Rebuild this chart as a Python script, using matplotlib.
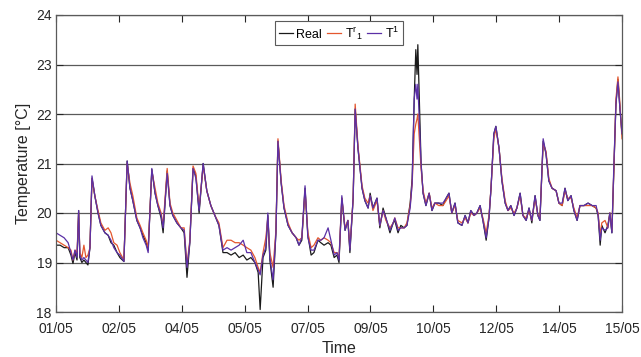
import matplotlib
matplotlib.use("Agg")
import matplotlib.pyplot as plt
import numpy as np

# time in days since 01/05 00:00
days = [0.00, 0.10, 0.20, 0.30, 0.37, 0.42, 0.47, 0.52, 0.56, 0.59, 0.64, 0.69, 0.74, 0.79, 0.84,
        0.89, 0.96, 1.04, 1.11, 1.21, 1.29, 1.36, 1.43, 1.51, 1.58, 1.68, 1.76, 1.83, 1.90, 2.00,
        2.08, 2.15, 2.23, 2.28, 2.37, 2.45, 2.52, 2.60, 2.65, 2.75, 2.82, 2.89, 2.99, 3.09, 3.17,
        3.24, 3.31, 3.39, 3.46, 3.54, 3.64, 3.73, 3.83, 3.93, 4.03, 4.13, 4.23, 4.33, 4.43, 4.53,
        4.63, 4.72, 4.82, 4.92, 5.00, 5.05, 5.12, 5.19, 5.24, 5.29, 5.37, 5.44, 5.49, 5.57, 5.64,
        5.74, 5.84, 5.94, 6.01, 6.08, 6.16, 6.23, 6.31, 6.38, 6.48, 6.55, 6.63, 6.73, 6.80, 6.88,
        6.95, 7.00, 7.07, 7.15, 7.22, 7.27, 7.35, 7.40, 7.47, 7.57, 7.64, 7.72, 7.77, 7.84, 7.94,
        8.01, 8.09, 8.16, 8.26, 8.34, 8.38, 8.46, 8.53, 8.61, 8.68, 8.76, 8.81, 8.86, 8.90, 8.93,
        8.95, 8.98, 9.03, 9.08, 9.15, 9.23, 9.30, 9.37, 9.47, 9.57, 9.65, 9.72, 9.79, 9.87, 9.94,
        10.04, 10.12, 10.19, 10.26, 10.34, 10.41, 10.49, 10.56, 10.64, 10.71, 10.76, 10.83, 10.88,
        10.96, 11.03, 11.11, 11.18, 11.25, 11.33, 11.40, 11.48, 11.55, 11.63, 11.70, 11.77, 11.85,
        11.92, 11.97, 12.05, 12.12, 12.19, 12.27, 12.37, 12.44, 12.52, 12.59, 12.66, 12.74, 12.81,
        12.89, 12.96, 13.06, 13.16, 13.26, 13.36, 13.41, 13.46, 13.50, 13.58, 13.65, 13.70, 13.75,
        13.80, 13.85, 13.90, 13.95, 14.00]

real = [19.35, 19.35, 19.30, 19.30, 19.15, 18.98, 19.20, 19.05, 20.05, 19.10, 19.00, 19.05, 19.00, 18.95, 19.30,
        20.70, 20.35, 20.00, 19.75, 19.60, 19.55, 19.40, 19.35, 19.20, 19.10, 19.02, 21.05, 20.50, 20.25, 19.85,
        19.70, 19.55, 19.40, 19.25, 20.88, 20.40, 20.15, 19.90, 19.60, 20.85, 20.15, 19.95, 19.80, 19.70, 19.60,
        18.70, 19.40, 20.90, 20.75, 20.00, 21.00, 20.45, 20.15, 19.95, 19.75, 19.20, 19.20, 19.15, 19.20, 19.10,
        19.15, 19.05, 19.10, 19.00, 18.80, 18.05, 19.10, 19.25, 19.95, 19.05, 18.50, 19.60, 21.45, 20.60, 20.10,
        19.75, 19.60, 19.50, 19.35, 19.45, 20.50, 19.55, 19.15, 19.20, 19.45, 19.40, 19.35, 19.40, 19.35, 19.10,
        19.15, 19.00, 20.30, 19.65, 19.85, 19.20, 20.30, 22.10, 21.30, 20.50, 20.25, 20.10, 20.40, 20.10, 20.30,
        19.70, 20.10, 19.90, 19.60, 19.80, 19.85, 19.60, 19.75, 19.70, 19.75, 20.20, 20.70, 22.30, 23.30, 22.80,
        23.40, 22.50, 21.00, 20.40, 20.15, 20.40, 20.05, 20.20, 20.20, 20.15, 20.30, 20.40, 20.00, 20.20, 19.80,
        19.75, 19.95, 19.80, 20.05, 19.95, 20.00, 20.15, 19.85, 19.45, 19.90, 20.50, 21.60, 21.75,
        21.30, 20.65, 20.20, 20.05, 20.15, 19.95, 20.10, 20.40, 19.95, 19.85, 20.10, 19.80, 20.35,
        19.95, 19.85, 21.45, 21.20, 20.65, 20.50, 20.45, 20.20, 20.15, 20.50, 20.25, 20.35, 20.05,
        19.85, 20.15, 20.15, 20.20, 20.15, 20.10, 19.95, 19.35, 19.75, 19.60, 19.75, 20.00, 19.60,
        20.90, 22.20, 22.70, 22.10, 21.60]

t_r1 = [19.45, 19.40, 19.35, 19.30, 19.25, 19.05, 19.25, 19.20, 20.00, 19.20, 19.10, 19.35, 19.10, 19.15, 19.30,
        20.70, 20.35, 20.05, 19.80, 19.65, 19.70, 19.60, 19.40, 19.35, 19.20, 19.05, 21.00, 20.60, 20.35, 19.90,
        19.75, 19.60, 19.45, 19.30, 20.85, 20.50, 20.20, 20.00, 19.75, 20.90, 20.20, 20.00, 19.85, 19.70, 19.70,
        18.95, 19.45, 20.95, 20.80, 20.10, 20.95, 20.45, 20.15, 19.95, 19.80, 19.30, 19.45, 19.45, 19.40, 19.40,
        19.35, 19.30, 19.25, 19.10, 18.90, 18.80, 19.20, 19.50, 19.90, 19.20, 18.90, 19.65, 21.50, 20.65, 20.15,
        19.80, 19.60, 19.50, 19.45, 19.50, 20.45, 19.60, 19.30, 19.35, 19.50, 19.45, 19.50, 19.45, 19.40, 19.20,
        19.20, 19.10, 20.30, 19.70, 19.85, 19.30, 20.30, 22.20, 21.35, 20.55, 20.30, 20.20, 20.35, 20.05, 20.25,
        19.75, 20.05, 19.85, 19.70, 19.80, 19.90, 19.70, 19.70, 19.70, 19.80, 20.15, 20.60, 21.60, 21.80, 21.90,
        22.00, 21.60, 20.90, 20.45, 20.20, 20.40, 20.10, 20.20, 20.15, 20.15, 20.25, 20.35, 20.00, 20.15, 19.85,
        19.80, 19.90, 19.80, 20.00, 19.95, 20.00, 20.10, 19.90, 19.60, 19.95, 20.50, 21.50, 21.70,
        21.30, 20.70, 20.25, 20.05, 20.10, 20.00, 20.10, 20.35, 19.95, 19.90, 20.05, 19.85, 20.30,
        19.95, 19.90, 21.40, 21.25, 20.70, 20.50, 20.45, 20.20, 20.15, 20.45, 20.30, 20.30, 20.10,
        19.90, 20.15, 20.15, 20.15, 20.15, 20.10, 20.00, 19.55, 19.80, 19.85, 19.70, 20.00, 19.65,
        20.90, 22.30, 22.75, 22.20, 21.50]

t_1 = [19.60, 19.55, 19.50, 19.40, 19.20, 19.05, 19.25, 19.10, 20.05, 19.15, 19.05, 19.10, 19.05, 19.00, 19.30,
       20.75, 20.35, 20.00, 19.75, 19.60, 19.55, 19.45, 19.30, 19.20, 19.15, 19.02, 21.05, 20.50, 20.25, 19.85,
       19.70, 19.50, 19.35, 19.20, 20.90, 20.40, 20.15, 19.95, 19.70, 20.80, 20.15, 19.95, 19.80, 19.70, 19.65,
       18.90, 19.40, 20.90, 20.70, 20.05, 21.00, 20.45, 20.15, 19.95, 19.75, 19.25, 19.30, 19.25, 19.30, 19.35,
       19.45, 19.20, 19.20, 19.00, 18.85, 18.75, 19.15, 19.30, 20.00, 19.10, 18.65, 19.60, 21.45, 20.60, 20.10,
       19.75, 19.60, 19.50, 19.35, 19.50, 20.55, 19.50, 19.25, 19.25, 19.45, 19.45, 19.50, 19.70, 19.45, 19.15,
       19.20, 19.05, 20.35, 19.65, 19.85, 19.25, 20.30, 22.10, 21.30, 20.50, 20.25, 20.10, 20.35, 20.10, 20.30,
       19.75, 20.05, 19.90, 19.65, 19.80, 19.90, 19.65, 19.70, 19.70, 19.75, 20.10, 20.60, 22.30, 22.60, 22.30,
       22.60, 22.00, 21.00, 20.40, 20.15, 20.40, 20.05, 20.20, 20.20, 20.20, 20.30, 20.40, 20.00, 20.20, 19.80,
       19.75, 19.95, 19.80, 20.05, 19.95, 20.00, 20.15, 19.85, 19.50, 19.90, 20.50, 21.60, 21.75,
       21.30, 20.65, 20.20, 20.05, 20.15, 19.95, 20.10, 20.40, 19.95, 19.85, 20.10, 19.85, 20.35,
       19.95, 19.85, 21.50, 21.20, 20.65, 20.50, 20.45, 20.20, 20.20, 20.50, 20.25, 20.35, 20.05,
       19.85, 20.15, 20.15, 20.20, 20.15, 20.15, 19.95, 19.45, 19.70, 19.65, 19.70, 20.00, 19.60,
       21.00, 22.20, 22.65, 22.10, 21.60]

tick_labels = ["01/05", "02/05", "04/05", "05/05", "07/05", "09/05", "10/05", "12/05", "14/05", "15/05"]

plt.rcParams["font.family"] = ["Liberation Sans", "DejaVu Sans"]
plt.rcParams["mathtext.default"] = "regular"

fig = plt.figure(figsize=(6.41, 3.57), dpi=100)
ax = fig.add_axes([56 / 641, 45 / 357, 566 / 641, 297 / 357])

ax.plot(days, real, color="#1a1a1a", lw=0.9, label="Real")
ax.plot(days, t_r1, color="#e4572e", lw=0.9, label=r"T$^r{}_1$")
ax.plot(days, t_1, color="#5b30a6", lw=0.9, label=r"T$^1$")

ax.set_xlim(0, 14)
ax.set_ylim(18, 24)
ax.set_xticks(np.linspace(0, 14, len(tick_labels)))
ax.set_xticklabels(tick_labels)
ax.set_yticks(range(18, 25))
ax.yaxis.grid(True, color="#5a5a5a", lw=0.9)
ax.set_axisbelow(True)
ax.tick_params(direction="in", top=True, right=True, length=5, width=0.8,
               labelsize=10, colors="#262626", pad=3)
ax.tick_params(axis="x", pad=7)
for sp in ax.spines.values():
    sp.set_color("#5a5a5a")
    sp.set_linewidth(0.9)

ax.set_xlabel("Time", fontsize=11.5, color="#262626", labelpad=4)
ax.set_ylabel("Temperature [°C]", fontsize=11.5, color="#262626", labelpad=4)

leg = ax.legend(loc="upper center", ncol=3, fontsize=9, handlelength=1.1,
                handletextpad=0.3, columnspacing=0.4, borderpad=0.3,
                borderaxespad=0.5, fancybox=False, framealpha=1, edgecolor="#5a5a5a")
leg.get_frame().set_linewidth(0.8)

fig.savefig("out.png", dpi=100)
